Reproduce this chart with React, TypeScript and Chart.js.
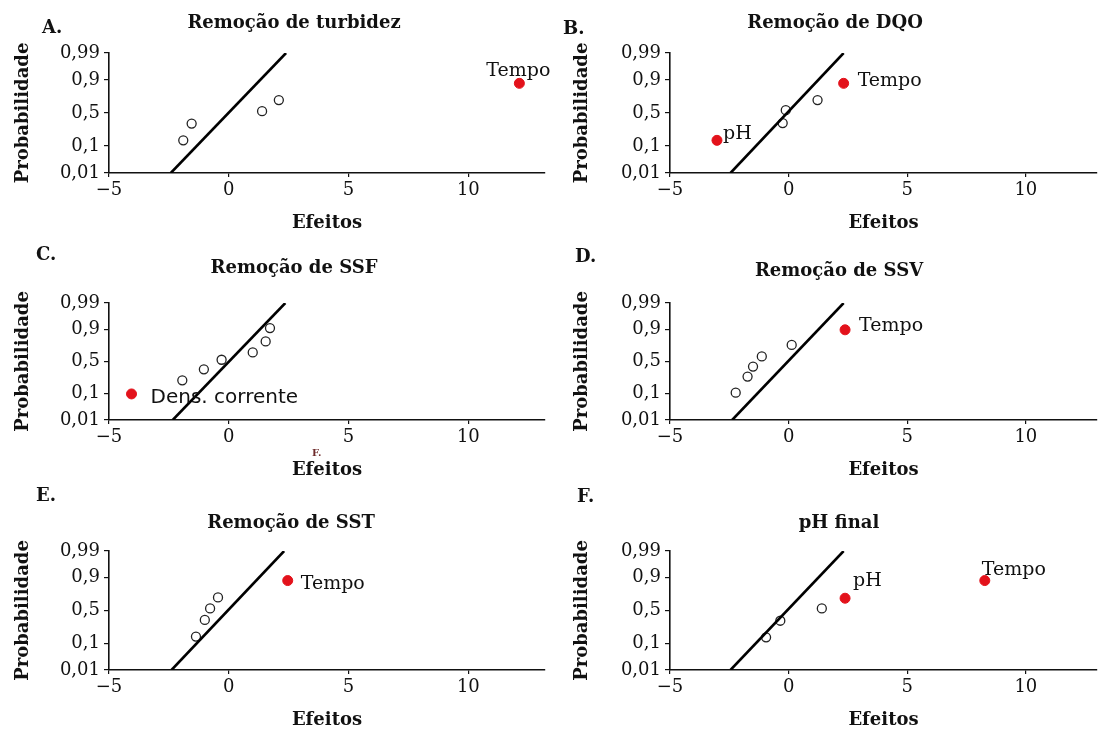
import React, { useEffect, useRef } from 'react';
import { Chart, registerables } from 'chart.js';

Chart.register(...registerables);

const SERIF = '"DejaVu Serif", "Liberation Serif", serif';
const SANS = '"DejaVu Sans", "Liberation Sans", sans-serif';

// Shared axes
const X_TICKS = [-5, 0, 5, 10];
const Y_TICK_LABELS = ['0,01', '0,1', '0,5', '0,9', '0,99'];
const Y_TICK_SCORES = [-2.326, -1.282, 0, 1.282, 2.326];
const LINE_SCORES = [-2.326, 2.326];

// A. Remoção de turbidez
const A_LINE_X = [-2.42, 2.39];
const A_OPEN_X = [-1.9, -1.55, 1.39, 2.09];
const A_OPEN_Z = [-1.06, -0.41, 0.07, 0.5];
const A_SIG_X = [12.13];
const A_SIG_Z = [1.15];
const A_SIG_LABELS = ['Tempo'];

// B. Remoção de DQO
const B_LINE_X = [-2.45, 2.32];
const B_OPEN_X = [-0.25, -0.12, 1.22];
const B_OPEN_Z = [-0.39, 0.11, 0.5];
const B_SIG_X = [-3.02, 2.32];
const B_SIG_Z = [-1.06, 1.15];
const B_SIG_LABELS = ['pH', 'Tempo'];

// C. Remoção de SSF
const C_LINE_X = [-2.34, 2.36];
const C_OPEN_X = [-1.94, -1.04, -0.3, 1.0, 1.54, 1.72];
const C_OPEN_Z = [-0.75, -0.31, 0.07, 0.36, 0.8, 1.33];
const C_SIG_X = [-4.06];
const C_SIG_Z = [-1.29];
const C_SIG_LABELS = ['Dens. corrente'];

// D. Remoção de SSV
const D_LINE_X = [-2.38, 2.32];
const D_OPEN_X = [-2.23, -1.73, -1.5, -1.13, 0.13];
const D_OPEN_Z = [-1.24, -0.6, -0.2, 0.2, 0.66];
const D_SIG_X = [2.38];
const D_SIG_Z = [1.26];
const D_SIG_LABELS = ['Tempo'];

// E. Remoção de SST
const E_LINE_X = [-2.39, 2.31];
const E_OPEN_X = [-1.37, -1.0, -0.78, -0.45];
const E_OPEN_Z = [-1.02, -0.37, 0.08, 0.51];
const E_SIG_X = [2.46];
const E_SIG_Z = [1.17];
const E_SIG_LABELS = ['Tempo'];

// F. pH final
const F_LINE_X = [-2.45, 2.32];
const F_OPEN_X = [-0.95, -0.35, 1.4];
const F_OPEN_Z = [-1.05, -0.4, 0.08];
const F_SIG_X = [2.38, 8.27];
const F_SIG_Z = [0.48, 1.17];
const F_SIG_LABELS = ['pH', 'Tempo'];

type LabelStyle = { dx: number; dy: number; align: CanvasTextAlign; font?: string };

type PanelCfg = {
  letter: string;
  title: string;
  left: number; top: number; width: number; height: number;
  padL: number; yW: number; padTop: number; padBottom: number; padRight: number;
  xMax: number;
  letterX: number; letterY: number;
  titleX: number; titleY: number;
  lineX: number[]; openX: number[]; openZ: number[];
  sigX: number[]; sigZ: number[]; sigLabels: string[];
  labelStyles: LabelStyle[];
  extra?: { text: string; x: number; y: number; font: string; color: string }[];
};

const XH = 63;
const LABEL_FONT = `19px ${SERIF}`;

const PANELS: PanelCfg[] = [
  {
    letter: 'A.', title: 'Remoção de turbidez',
    left: 0, top: 0, width: 551, height: 245,
    padL: 13, yW: 96, padTop: 53, padBottom: 9, padRight: 5, xMax: 13.2,
    letterX: 42, letterY: 28, titleX: 294, titleY: 23,
    lineX: A_LINE_X, openX: A_OPEN_X, openZ: A_OPEN_Z,
    sigX: A_SIG_X, sigZ: A_SIG_Z, sigLabels: A_SIG_LABELS,
    labelStyles: [{ dx: -1, dy: -12, align: 'center' }],
  },
  {
    letter: 'B.', title: 'Remoção de DQO',
    left: 551, top: 0, width: 552, height: 245,
    padL: 21, yW: 98, padTop: 53, padBottom: 9, padRight: 0, xMax: 13.0,
    letterX: 563, letterY: 29, titleX: 835, titleY: 23,
    lineX: B_LINE_X, openX: B_OPEN_X, openZ: B_OPEN_Z,
    sigX: B_SIG_X, sigZ: B_SIG_Z, sigLabels: B_SIG_LABELS,
    labelStyles: [{ dx: 6, dy: -6, align: 'left' }, { dx: 14, dy: -2, align: 'left' }],
  },
  {
    letter: 'C.', title: 'Remoção de SSF',
    left: 0, top: 245, width: 551, height: 239,
    padL: 13, yW: 96, padTop: 58, padBottom: 1, padRight: 5, xMax: 13.2,
    letterX: 36, letterY: 255, titleX: 294, titleY: 268,
    lineX: C_LINE_X, openX: C_OPEN_X, openZ: C_OPEN_Z,
    sigX: C_SIG_X, sigZ: C_SIG_Z, sigLabels: C_SIG_LABELS,
    labelStyles: [{ dx: 19, dy: 4, align: 'left', font: `20px ${SANS}` }],
    extra: [{ text: 'F.', x: 312, y: 453, font: `bold 10px ${SERIF}`, color: '#6e2b2b' }],
  },
  {
    letter: 'D.', title: 'Remoção de SSV',
    left: 551, top: 245, width: 552, height: 239,
    padL: 21, yW: 98, padTop: 58, padBottom: 1, padRight: 0, xMax: 13.0,
    letterX: 575, letterY: 257, titleX: 839, titleY: 271,
    lineX: D_LINE_X, openX: D_OPEN_X, openZ: D_OPEN_Z,
    sigX: D_SIG_X, sigZ: D_SIG_Z, sigLabels: D_SIG_LABELS,
    labelStyles: [{ dx: 14, dy: -4, align: 'left' }],
  },
  {
    letter: 'E.', title: 'Remoção de SST',
    left: 0, top: 484, width: 551, height: 249,
    padL: 13, yW: 96, padTop: 67, padBottom: 0, padRight: 5, xMax: 13.2,
    letterX: 36, letterY: 496, titleX: 291, titleY: 523,
    lineX: E_LINE_X, openX: E_OPEN_X, openZ: E_OPEN_Z,
    sigX: E_SIG_X, sigZ: E_SIG_Z, sigLabels: E_SIG_LABELS,
    labelStyles: [{ dx: 13, dy: 3, align: 'left' }],
  },
  {
    letter: 'F.', title: 'pH final',
    left: 551, top: 484, width: 552, height: 249,
    padL: 21, yW: 98, padTop: 67, padBottom: 0, padRight: 0, xMax: 13.0,
    letterX: 577, letterY: 497, titleX: 839, titleY: 523,
    lineX: F_LINE_X, openX: F_OPEN_X, openZ: F_OPEN_Z,
    sigX: F_SIG_X, sigZ: F_SIG_Z, sigLabels: F_SIG_LABELS,
    labelStyles: [{ dx: 8, dy: -17, align: 'left' }, { dx: -3, dy: -11, align: 'left' }],
  },
];

const pairs = (xs: number[], ys: number[]) => xs.map((x, i) => ({ x, y: ys[i] }));

function Panel({ cfg }: { cfg: PanelCfg }) {
  const ref = useRef<HTMLCanvasElement | null>(null);

  useEffect(() => {
    if (!ref.current) return;
    const textPlugin = {
      id: 'panelText',
      afterDraw(chart: any) {
        const ctx = chart.ctx as CanvasRenderingContext2D;
        ctx.save();
        ctx.fillStyle = '#111';
        ctx.textBaseline = 'middle';
        ctx.font = `bold 18px ${SERIF}`;
        ctx.textAlign = 'left';
        ctx.fillText(cfg.letter, cfg.letterX - cfg.left, cfg.letterY - cfg.top);
        ctx.textAlign = 'center';
        ctx.fillText(cfg.title, cfg.titleX - cfg.left, cfg.titleY - cfg.top);
        const meta = chart.getDatasetMeta(2);
        meta.data.forEach((el: any, i: number) => {
          const st = cfg.labelStyles[i];
          ctx.font = st.font || LABEL_FONT;
          ctx.textAlign = st.align;
          ctx.fillStyle = '#111';
          ctx.fillText(cfg.sigLabels[i], el.x + st.dx, el.y + st.dy);
        });
        (cfg.extra || []).forEach((e) => {
          ctx.font = e.font;
          ctx.fillStyle = e.color;
          ctx.textAlign = 'left';
          ctx.fillText(e.text, e.x - cfg.left, e.y - cfg.top);
        });
        ctx.restore();
      },
    };

    const chart = new Chart(ref.current, {
      type: 'scatter',
      data: {
        datasets: [
          {
            type: 'line',
            data: pairs(cfg.lineX, LINE_SCORES),
            borderColor: '#000',
            borderWidth: 2.6,
            pointRadius: 0,
            fill: false,
          } as any,
          {
            data: pairs(cfg.openX, cfg.openZ),
            pointStyle: 'circle',
            pointRadius: 4.5,
            backgroundColor: 'rgba(255,255,255,0)',
            borderColor: '#222',
            borderWidth: 1.3,
          },
          {
            data: pairs(cfg.sigX, cfg.sigZ),
            pointStyle: 'circle',
            pointRadius: 5,
            backgroundColor: '#e3121b',
            borderColor: '#e3121b',
            borderWidth: 1,
          },
        ],
      },
      options: {
        responsive: false,
        animation: false,
        events: [],
        layout: { padding: { left: cfg.padL, top: cfg.padTop, right: cfg.padRight, bottom: cfg.padBottom } },
        plugins: { legend: { display: false }, tooltip: { enabled: false }, title: { display: false } },
        scales: {
          x: {
            type: 'linear',
            min: -5,
            max: cfg.xMax,
            afterBuildTicks: (s: any) => { s.ticks = X_TICKS.map((v) => ({ value: v })); },
            afterFit: (s: any) => { s.height = XH; },
            ticks: {
              font: { family: SERIF, size: 18 },
              color: '#111',
              padding: 3,
              maxRotation: 0,
              autoSkip: false,
              callback: (v: any) => (v < 0 ? '\u2212' + Math.abs(v) : String(v)),
            },
            grid: { display: true, drawOnChartArea: false, drawTicks: true, tickLength: 4, color: '#111', lineWidth: 1.2 },
            border: { display: true, color: '#111', width: 1.6 },
            title: { display: true, text: 'Efeitos', color: '#111', font: { family: SERIF, size: 18, weight: 'bold' }, padding: { top: 0, bottom: 2 } },
          },
          y: {
            type: 'linear',
            min: Y_TICK_SCORES[0],
            max: Y_TICK_SCORES[Y_TICK_SCORES.length - 1],
            afterBuildTicks: (s: any) => { s.ticks = Y_TICK_SCORES.map((v) => ({ value: v })); },
            afterFit: (s: any) => { s.width = cfg.yW; },
            ticks: {
              font: { family: SERIF, size: 18 },
              color: '#111',
              padding: 4,
              autoSkip: false,
              callback: (_v: any, i: number) => Y_TICK_LABELS[i],
            },
            grid: { display: true, drawOnChartArea: false, drawTicks: true, tickLength: 5, color: '#111', lineWidth: 1.2 },
            border: { display: true, color: '#111', width: 1.6 },
            title: { display: true, text: 'Probabilidade', color: '#111', font: { family: SERIF, size: 18, weight: 'bold' }, padding: { top: 0, bottom: 0 } },
          },
        },
      } as any,
      plugins: [textPlugin],
    });
    return () => chart.destroy();
  }, [cfg]);

  return (
    <canvas
      ref={ref}
      width={cfg.width}
      height={cfg.height}
      style={{ position: 'absolute', left: cfg.left, top: cfg.top, width: cfg.width, height: cfg.height }}
    />
  );
}

export default function App() {
  return (
    <div style={{ position: 'absolute', left: 0, top: 0, width: 1103, height: 733, background: '#fff', overflow: 'hidden' }}>
      {PANELS.map((p) => (
        <Panel key={p.letter} cfg={p} />
      ))}
    </div>
  );
}
